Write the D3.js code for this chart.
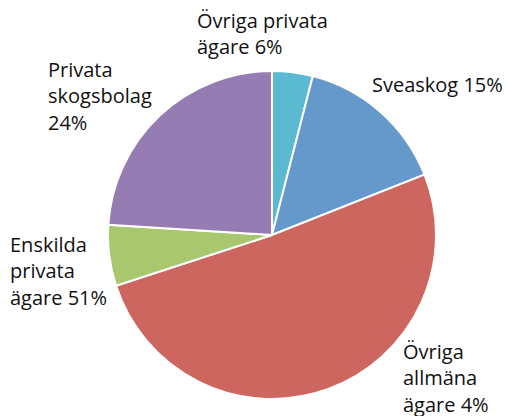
<html>
<head>
<meta charset="utf-8">
<title>Skogsägare</title>
<style>
body { margin: 0; background: #fff; }
text { font-family: "Open Sans", "DejaVu Sans", sans-serif; font-size: 20px; fill: #111; }
</style>
</head>
<body>
<script src="https://cdn.jsdelivr.net/npm/d3@7"></script>
<script>
var width = 512;
var height = 416;

// slices clockwise from 12 o'clock
var values = [4, 15, 51, 6, 24];
var colors = ["#5bb9d1", "#6599cc", "#cd665f", "#a9c76e", "#957db3"];
// labels as they are printed next to each slice
var labels = [
  ["Övriga privata", "ägare 6%"],
  ["Sveaskog 15%"],
  ["Övriga", "allmäna", "ägare 4%"],
  ["Enskilda", "privata", "ägare 51%"],
  ["Privata", "skogsbolag", "24%"]
];
var labelPos = [[197, 28], [372, 92], [403, 359], [10, 252], [48, 77]];

var cx = 272, cy = 235, r = 164;

var svg = d3.select("body").append("svg")
  .attr("width", width)
  .attr("height", height);

var pie = d3.pie().sort(null).value(function(d){ return d; });
var arc = d3.arc().innerRadius(0).outerRadius(r);

var g = svg.append("g").attr("transform", "translate(" + cx + "," + cy + ")");

g.selectAll("path")
  .data(pie(values))
  .enter()
  .append("path")
  .attr("d", arc)
  .attr("fill", function(d, i){ return colors[i]; })
  .attr("stroke", "#fff")
  .attr("stroke-width", 2);

var lab = svg.selectAll("text.lab")
  .data(labels)
  .enter()
  .append("text")
  .attr("class", "lab")
  .attr("x", function(d, i){ return labelPos[i][0]; })
  .attr("y", function(d, i){ return labelPos[i][1]; });

lab.selectAll("tspan")
  .data(function(d, i){ return d.map(function(s){ return { s: s, x: labelPos[i][0] }; }); })
  .enter()
  .append("tspan")
  .attr("x", function(d){ return d.x; })
  .attr("dy", function(d, j){ return j == 0 ? 0 : 26.3; })
  .text(function(d){ return d.s; });
</script>
</body>
</html>
